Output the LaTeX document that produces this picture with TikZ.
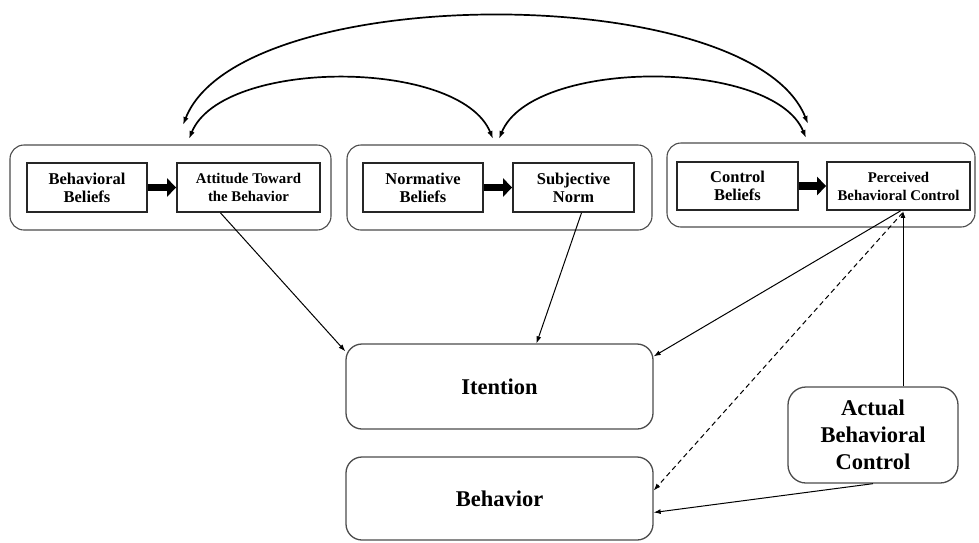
\documentclass[tikz,border=0pt]{standalone}
\usepackage{fontspec}
\setmainfont{Liberation Serif}
\usetikzlibrary{arrows.meta}
\begin{document}
\begin{tikzpicture}[x=1pt,y=-1pt,
  grp/.style={draw=black!70, line width=1.1pt, rounded corners=14pt, inner sep=0pt},
  inbox/.style={draw=black!85, line width=1.8pt, inner sep=0pt, align=center,
    font=\bfseries\fontsize{16.5}{18}\selectfont},
  smallbox/.style={inbox, font=\bfseries\fontsize{14.8}{18}\selectfont},
  bigbox/.style={draw=black!70, line width=1.3pt, rounded corners=16pt, inner sep=0pt,
    align=center, font=\bfseries\fontsize{22.5}{27}\selectfont},
  link/.style={draw=black, line width=1pt, -{Latex[length=7pt,width=5pt]}},
  fatarrow/.style={black, line width=7.5pt, -{Triangle[length=9pt,width=18pt]}},
  archlink/.style={black, line width=1.7pt,
    {Latex[length=8pt,width=5.5pt]}-{Latex[length=8pt,width=5.5pt]}}
]
\useasboundingbox[fill=white] (0,0) rectangle (979,542);

% group frames
\node[grp, minimum width=321pt, minimum height=85pt] (g1) at (170.5,187.5) {};
\node[grp, minimum width=305pt, minimum height=85pt] (g2) at (499.5,187.5) {};
\node[grp, minimum width=308pt, minimum height=84pt] (g3) at (821,185) {};

% belief -> construct boxes
\node[inbox, minimum width=120pt, minimum height=49pt] (bb) at (87,187.5) {Behavioral\\Beliefs};
\node[smallbox, minimum width=143pt, minimum height=49pt] (att) at (248.5,187.5) {Attitude Toward\\the Behavior};
\node[inbox, minimum width=120pt, minimum height=49pt] (nb) at (423,187.5) {Normative\\Beliefs};
\node[inbox, minimum width=121pt, minimum height=49pt] (sn) at (573.5,187.5) {Subjective\\Norm};
\node[inbox, minimum width=121pt, minimum height=48pt] (cb) at (737.5,186) {Control\\Beliefs};
\node[smallbox, minimum width=143pt, minimum height=48pt] (pbc) at (898.5,186) {Perceived\\Behavioral Control};

\draw[fatarrow] (bb.east) -- (att.west);
\draw[fatarrow] (nb.east) -- (sn.west);
\draw[fatarrow] (cb.east) -- (pbc.west);

% lower boxes
\node[bigbox, minimum width=307pt, minimum height=85pt] (int) at (499.5,386.5) {Itention};
\node[bigbox, minimum width=307pt, minimum height=83pt] (beh) at (499.5,498.5) {Behavior};
\node[bigbox, rounded corners=18pt, minimum width=170pt, minimum height=96pt] (abc) at (873,435) {Actual\\Behavioral\\Control};

% links into intention and behavior
\coordinate (pfoot) at ([xshift=4pt]pbc.south);
\draw[link] ([xshift=-28pt]att.south) -- ([yshift=-8pt]int.north west);
\draw[link] ([xshift=8pt]sn.south) -- ([xshift=37pt]int.north);
\draw[link] ([xshift=-2pt]pfoot) -- ([yshift=-13pt]int.north east);
\draw[link, dash pattern=on 5pt off 3.5pt] ([yshift=-2pt]pfoot) -- ([yshift=8pt]beh.east);
\draw[link] (abc.south) -- ([yshift=-14pt]beh.east);
\draw[link] ([xshift=30pt]abc.north) -- ([xshift=30pt]abc.north |- pbc.south);

% correlation arcs between the three constructs
\coordinate (aL1) at (183,125);
\coordinate (aR1) at (808,124);
\coordinate (aL2) at (189,139);
\coordinate (aM2) at (493,139);
\coordinate (aM3) at (499,139);
\coordinate (aR3) at (806,138);
\draw[archlink] (aL1) .. controls (240,-20) and (751,-20) .. (aR1);
\draw[archlink] (aL2) .. controls (222,58) and (460,58) .. (aM2);
\draw[archlink] (aM3) .. controls (532,58) and (773,58) .. (aR3);
\end{tikzpicture}
\end{document}
